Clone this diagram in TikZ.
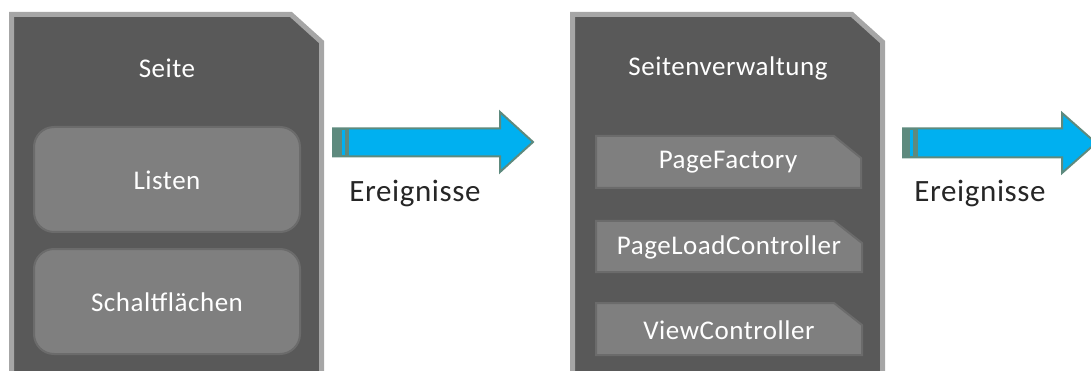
\documentclass[tikz,border=0pt]{standalone}
\usepackage{fontspec}
\setmainfont{Carlito}[LetterSpace=2]
\definecolor{panelfill}{HTML}{595959}
\definecolor{panelline}{HTML}{A6A6A6}
\definecolor{boxfill}{HTML}{7F7F7F}
\definecolor{boxline}{HTML}{6B6B6B}
\definecolor{arrowfill}{HTML}{00B0F0}
\definecolor{arrowline}{HTML}{5E8A7E}
\definecolor{labeltext}{HTML}{262626}
\begin{document}
\begin{tikzpicture}[x=1pt,y=-1pt,
  panel/.style={fill=panelfill,draw=panelline,line width=5pt,line join=miter},
  paneltitle/.style={text=white,font=\fontsize{27}{30}\selectfont,inner sep=0pt},
  roundbox/.style={fill=boxfill,draw=boxline,line width=2pt,rounded corners=20pt},
  snipbox/.style={fill=boxfill,draw=boxline,line width=2pt},
  boxtext/.style={text=white,font=\fontsize{27}{30}\selectfont,inner sep=0pt},
  bigarrow/.style={fill=arrowfill,draw=arrowline,line width=2pt,line join=miter},
  stripe/.style={fill=arrowline},
  evtext/.style={text=labeltext,font=\fontsize{31}{34}\selectfont,inner sep=0pt}]
\useasboundingbox (0,0) rectangle (1091,371);
\clip (0,0) rectangle (1091,371);
% left panel
\path[panel] (11.5,390) -- (11.5,14.5) -- (291,14.5) -- (321.5,42) -- (321.5,390);
\node[paneltitle] (seite) at (167,68) {Seite};
\path[roundbox] (34,127) rectangle (300,232);
\node[boxtext] (listen) at (167,180) {Listen};
\path[roundbox] (34,249) rectangle (300,354);
\node[boxtext] (schalt) at (167,302) {Schaltflächen};
% arrow 1
\path[bigarrow] (333,128.5) -- (500,128.5) -- (500,112) -- (533,142) -- (500,172) -- (500,156.5) -- (333,156.5) -- cycle;
\fill[stripe] (333,128) rectangle (349,157);
\fill[arrowfill] (342,130) rectangle (345,155);
\node[evtext] (ev1) at (415,194) {Ereignisse};
% right panel
\path[panel] (572.5,390) -- (572.5,14.5) -- (852,14.5) -- (882.5,42) -- (882.5,390);
\node[paneltitle] (verw) at (728,68) {Seitenverwaltung};
\path[snipbox] (596,136) -- (834,136) -- (861,158) -- (861,188) -- (596,188) -- cycle;
\node[boxtext] (pf) at (728,162) {PageFactory};
\path[snipbox] (596,221) -- (834,221) -- (862,243) -- (862,272) -- (596,272) -- cycle;
\node[boxtext] (plc) at (729,247) {PageLoadController};
\path[snipbox] (596,303) -- (834,303) -- (862,325) -- (862,355) -- (596,355) -- cycle;
\node[boxtext] (vc) at (729,330) {ViewController};
% arrow 2
\path[bigarrow] (903,128.5) -- (1062,128.5) -- (1062,113) -- (1096,143) -- (1062,173) -- (1062,157.5) -- (903,157.5) -- cycle;
\fill[stripe] (903,128) rectangle (918,158);
\fill[arrowfill] (910,130) rectangle (913,156);
\node[evtext] (ev2) at (980,194) {Ereignisse};
\end{tikzpicture}
\end{document}
